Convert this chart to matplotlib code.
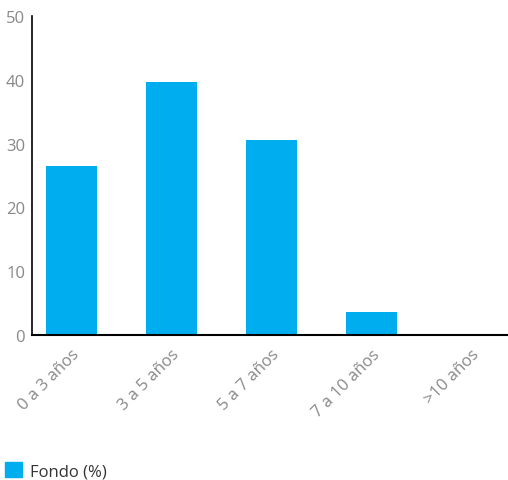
import matplotlib
matplotlib.use('Agg')
import matplotlib.pyplot as plt
from matplotlib.patches import Patch

categories = ['0 a 3 años', '3 a 5 años', '5 a 7 años', '7 a 10 años', '>10 años']
fondo = [26.4, 39.6, 30.5, 3.5, 0.0]
yticks = [0, 10, 20, 30, 40, 50]

plt.rcParams['font.family'] = ['Open Sans', 'DejaVu Sans']

fig = plt.figure(figsize=(5.08, 4.81), dpi=100)
ax = fig.add_axes([0.063, 0.302, 0.937, 0.6625])

x = range(len(categories))
ax.bar(x, fondo, width=0.51, color='#00aeef')

ax.set_ylim(0, 50)
ax.set_xlim(-0.395, 4.365)
ax.set_yticks(yticks)
ax.set_xticks(list(x))
ax.set_xticklabels(categories, rotation=45, ha='right', rotation_mode='anchor')
ax.tick_params(axis='both', length=0, colors='#888888', labelsize=12)
ax.tick_params(axis='y', pad=5)
ax.tick_params(axis='x', pad=8)

for s in ['top', 'right']:
    ax.spines[s].set_visible(False)
ax.spines['left'].set_linewidth(1.2)
ax.spines['bottom'].set_linewidth(1.5)

fig.legend(handles=[Patch(color='#00aeef', label='Fondo (%)')],
           loc='lower left', bbox_to_anchor=(-0.02, -0.03), frameon=False,
           fontsize=12, handlelength=1.0, handleheight=1.0, handletextpad=0.5,
           labelcolor='#333333')

fig.savefig('out.png', dpi=100)
